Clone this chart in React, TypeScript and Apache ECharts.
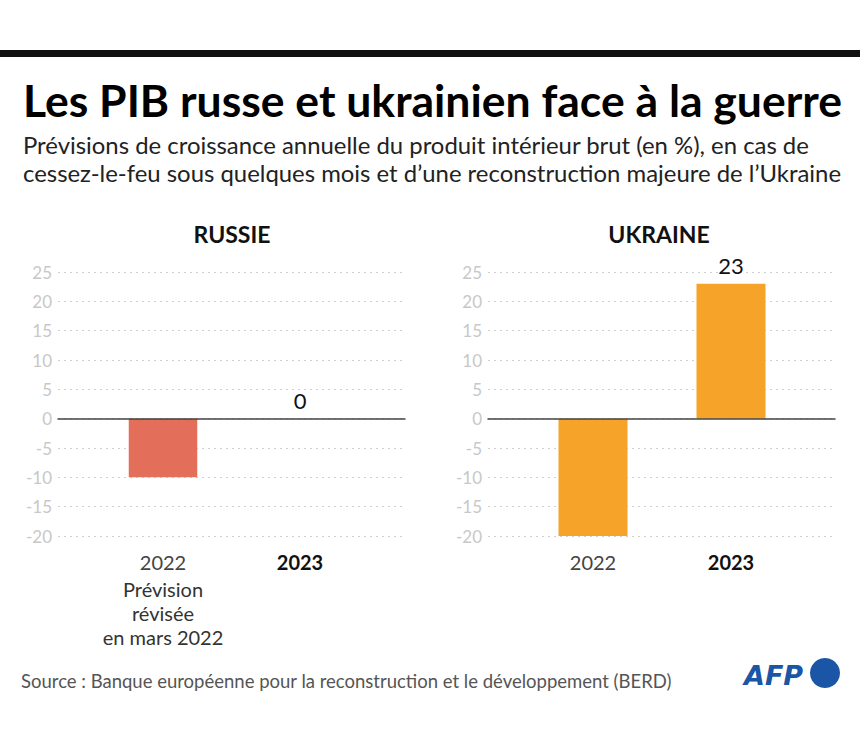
import React, { useEffect, useRef } from "react";
import * as echarts from "echarts";

const categories = ["2022", "2023"];
const russiaValues = [-10, 0];
const ukraineValues = [-20, 23];
const yTicks = { min: -20, max: 25, interval: 5 };

const FONT = "Lato";

export default function App() {
  const ref = useRef<HTMLDivElement>(null);
  useEffect(() => {
    const chart = echarts.init(ref.current!, undefined, { renderer: "svg" });
    const bgY = (gridIndex: number) => ({
      type: "value",
      gridIndex,
      min: yTicks.min,
      max: yTicks.max,
      interval: yTicks.interval,
      axisLine: { show: false },
      axisTick: { show: false },
      axisLabel: { color: "#c8c8c8", fontSize: 17, margin: 6, fontFamily: FONT },
      splitLine: { show: true, lineStyle: { type: [2, 4], color: "#cfcfcf", width: 1 } },
    });
    const barY = (gridIndex: number) => ({
      type: "value",
      gridIndex,
      min: yTicks.min,
      max: yTicks.max,
      interval: yTicks.interval,
      show: false,
      splitLine: { show: false },
    });
    const bgX = (gridIndex: number) => ({
      type: "value",
      gridIndex,
      min: 0,
      max: 1,
      axisLine: { show: true, onZero: true, lineStyle: { color: "#444", width: 1.5 } },
      axisTick: { show: false },
      axisLabel: { show: false },
      splitLine: { show: false },
      z: 5,
    });
    const barX = (gridIndex: number, withNote: boolean) => ({
      type: "category",
      gridIndex,
      data: categories,
      axisLine: { show: false },
      axisTick: { show: false },
      axisLabel: {
        margin: 11,
        interval: 0,
        formatter: (v: string) => {
          if (v === "2023") return "{b|" + v + "}";
          if (withNote) return "{a|" + v + "}\n{n|Prévision}\n{n|révisée}\n{n|en mars 2022}";
          return "{a|" + v + "}";
        },
        rich: {
          a: { fontSize: 20, color: "#444", fontFamily: FONT, lineHeight: 30 },
          b: { fontSize: 20, color: "#111", fontWeight: "bold", fontFamily: FONT, lineHeight: 30 },
          n: { fontSize: 20, color: "#333", fontFamily: FONT, lineHeight: 24 },
        },
      },
    });
    const barSeries = (xi: number, yi: number, values: number[], color: string) => ({
      type: "bar",
      xAxisIndex: xi,
      yAxisIndex: yi,
      barWidth: "50%",
      itemStyle: { color },
      data: values.map((v, i) => ({
        value: v,
        label: {
          show: i === 1,
          position: "top",
          distance: 7,
          fontSize: 22,
          color: "#111",
          fontFamily: FONT,
        },
      })),
    });

    chart.setOption({
      animation: false,
      textStyle: { fontFamily: FONT },
      title: [
        {
          text: "Les PIB russe et ukrainien face à la guerre",
          left: 18,
          top: 72,
          textStyle: { fontSize: 44.5, fontWeight: "bold", color: "#000", fontFamily: FONT },
        },
        {
          text:
            "Prévisions de croissance annuelle du produit intérieur brut (en %), en cas de\ncessez-le-feu sous quelques mois et d’une reconstruction majeure de l’Ukraine",
          left: 18,
          top: 125,
          textStyle: { fontSize: 23.9, lineHeight: 28.5, color: "#222", fontWeight: "normal", fontFamily: FONT },
        },
        {
          text: "Source : Banque européenne pour la reconstruction et le développement (BERD)",
          left: 16,
          top: 666,
          textStyle: { fontSize: 18.5, color: "#555", fontWeight: "normal", fontFamily: FONT },
        },
      ],
      graphic: [
        { type: "rect", shape: { x: 0, y: 50, width: 860, height: 7 }, style: { fill: "#111" } },
        {
          type: "text",
          x: 232,
          y: 234,
          style: {
            text: "RUSSIE",
            fill: "#111",
            font: "bold 23px Lato",
            textAlign: "center",
            textVerticalAlign: "middle",
          },
        },
        {
          type: "text",
          x: 659,
          y: 234,
          style: {
            text: "UKRAINE",
            fill: "#111",
            font: "bold 23px Lato",
            textAlign: "center",
            textVerticalAlign: "middle",
          },
        },
        {
          type: "text",
          x: 744,
          y: 675,
          style: {
            text: "AFP",
            fill: "#1a55a6",
            font: "italic bold 27px 'DejaVu Sans'",
            textVerticalAlign: "middle",
          },
        },
        { type: "circle", shape: { cx: 825, cy: 673, r: 15 }, style: { fill: "#1a55a6" } },
      ],
      grid: [
        { left: 58, width: 347, top: 272, height: 264 },
        { left: 94.5, width: 274, top: 272, height: 264 },
        { left: 488, width: 347, top: 272, height: 264 },
        { left: 524, width: 276, top: 272, height: 264 },
      ],
      xAxis: [bgX(0), barX(1, true), bgX(2), barX(3, false)],
      yAxis: [bgY(0), barY(1), bgY(2), barY(3)],
      series: [
        barSeries(1, 1, russiaValues, "#e36e5a"),
        barSeries(3, 3, ukraineValues, "#f5a329"),
      ],
    });
    return () => chart.dispose();
  }, []);
  return (
    <div
      ref={ref}
      style={{ position: "fixed", left: 0, top: 0, width: 860, height: 755, background: "#fff" }}
    />
  );
}
